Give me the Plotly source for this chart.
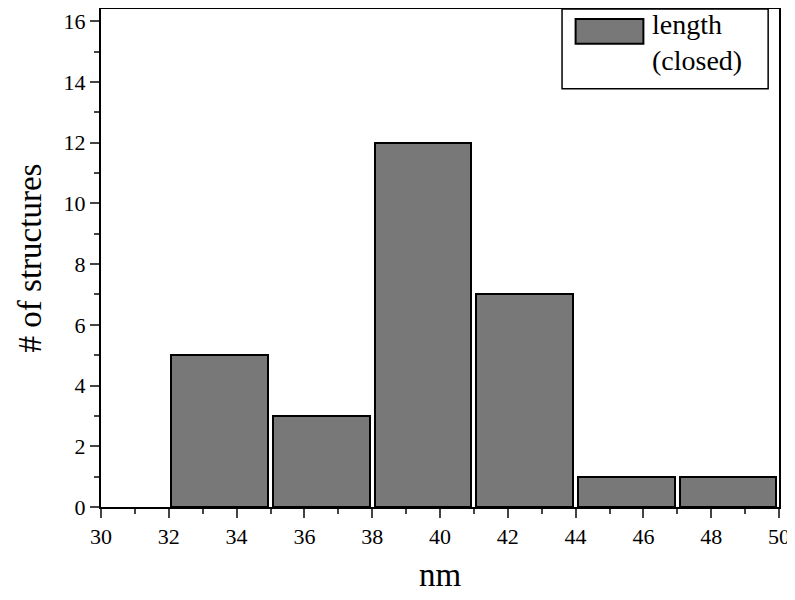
import plotly.graph_objects as go

centers = [33.5, 36.5, 39.5, 42.5, 45.5, 48.5]
counts = [5, 3, 12, 7, 1, 1]
label = "length<br>(closed)"

F = "Liberation Serif"
fig = go.Figure()
fig.add_trace(go.Bar(x=centers, y=counts, width=2.85, marker=dict(color="#787878", line=dict(color="black", width=2)), showlegend=False))
fig.update_layout(
    width=787, height=592, plot_bgcolor="white", paper_bgcolor="white",
    margin=dict(l=93, r=16, t=1, b=93, autoexpand=False),
    font=dict(family=F, size=22, color="black"),
    bargap=0,
    xaxis=dict(range=[30, 50], tickvals=list(range(30, 51, 2)), ticks="outside", ticklen=9, tickwidth=2,
               tickfont=dict(family=F, size=22), automargin=False,
               minor=dict(dtick=1, ticks="outside", ticklen=5, tickwidth=2), showgrid=False, zeroline=False,
               showline=True, linewidth=2, linecolor="black", mirror=True,
               title=dict(text="nm", font=dict(size=33, family=F), standoff=14)),
    yaxis=dict(range=[0, 16.4], tickvals=list(range(0, 17, 2)), ticks="outside", ticklen=9, tickwidth=2,
               tickfont=dict(family=F, size=22), automargin=False,
               minor=dict(dtick=1, ticks="outside", ticklen=5, tickwidth=2), showgrid=False, zeroline=False,
               showline=True, linewidth=2, linecolor="black", mirror=True,
               title=dict(text="# of structures", font=dict(size=33, family=F), standoff=12)),
)
fig.add_shape(type="rect", xref="paper", yref="paper", x0=0.68, x1=0.984, y0=0.84, y1=1.0,
              line=dict(color="black", width=1.5), fillcolor="white")
fig.add_shape(type="rect", xref="paper", yref="paper", x0=0.70, x1=0.80, y0=0.93, y1=0.98,
              line=dict(color="black", width=2), fillcolor="#787878")
fig.add_annotation(xref="paper", yref="paper", x=0.81, y=1.005, xanchor="left", yanchor="top",
                   text=label, showarrow=False, align="left", font=dict(size=28, family=F))
fig.write_html("out.html")
